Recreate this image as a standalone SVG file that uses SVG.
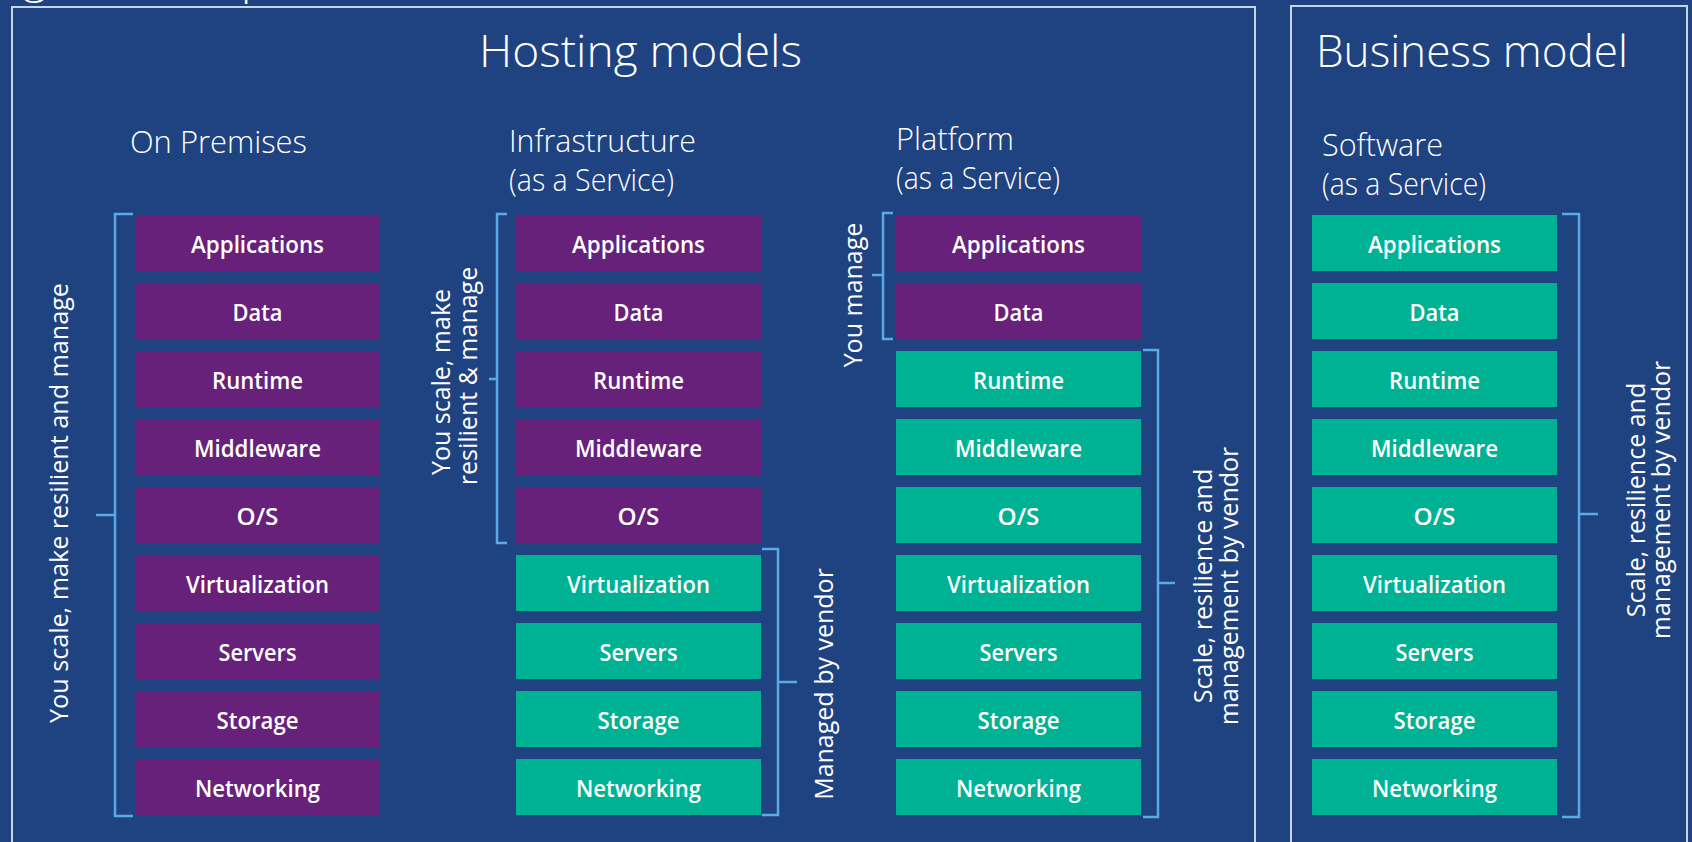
<svg xmlns="http://www.w3.org/2000/svg" width="1692" height="842" viewBox="0 0 1692 842">
  <style>
    .bg{fill:#1f4280}
    .frame{fill:none;stroke:#c5d5e8;stroke-width:2}
    .p{fill:#68217a}
    .g{fill:#00b294}
    .t{font-family:"Open Sans","Liberation Sans",sans-serif;fill:#ffffff}
    .title{font-weight:300;font-size:45px}
    .hdr{font-weight:300;font-size:31px}
    .lbl{font-weight:600;font-size:23px;text-anchor:middle}
    .side{font-weight:400;font-size:25px;text-anchor:middle}
    .br{fill:none;stroke:#5aaae8;stroke-width:2.5}
  </style>

  <rect class="bg" x="0" y="0" width="1692" height="842"/>

  <!-- cut-off heading above the frames -->
  <text class="t title" x="23" y="-7" font-size="50">g</text>
  <text class="t title" x="241" y="-6" font-size="50">p</text>

  <!-- outer frames -->
  <rect id="hosting-frame" class="frame" x="12" y="7" width="1243" height="860"/>
  <rect id="business-frame" class="frame" x="1291" y="6" width="396" height="860"/>

  <!-- headings -->
  <text id="hosting-title" class="t title" x="479" y="67" textLength="323" lengthAdjust="spacingAndGlyphs">Hosting models</text>
  <text id="business-title" class="t title" x="1316" y="67" textLength="312" lengthAdjust="spacingAndGlyphs">Business model</text>

  <text class="t hdr" x="130" y="153" textLength="177" lengthAdjust="spacingAndGlyphs">On Premises</text>
  <text class="t hdr" x="509" y="152" textLength="187" lengthAdjust="spacingAndGlyphs">Infrastructure</text>
  <text class="t hdr" x="509" y="191" textLength="165" lengthAdjust="spacingAndGlyphs">(as a Service)</text>
  <text class="t hdr" x="896" y="150" textLength="118" lengthAdjust="spacingAndGlyphs">Platform</text>
  <text class="t hdr" x="896" y="189" textLength="164" lengthAdjust="spacingAndGlyphs">(as a Service)</text>
  <text class="t hdr" x="1322" y="156" textLength="121" lengthAdjust="spacingAndGlyphs">Software</text>
  <text class="t hdr" x="1322" y="195" textLength="164" lengthAdjust="spacingAndGlyphs">(as a Service)</text>

  <!-- On Premises stack -->
  <g id="onprem-applications"><rect class="p" x="135" y="215" width="245" height="56"/><text class="t lbl" x="257.5" y="253" textLength="133" lengthAdjust="spacingAndGlyphs">Applications</text></g>
  <g id="onprem-data"><rect class="p" x="135" y="283" width="245" height="56"/><text class="t lbl" x="257.5" y="321" textLength="50" lengthAdjust="spacingAndGlyphs">Data</text></g>
  <g id="onprem-runtime"><rect class="p" x="135" y="351" width="245" height="56"/><text class="t lbl" x="257.5" y="389" textLength="91" lengthAdjust="spacingAndGlyphs">Runtime</text></g>
  <g id="onprem-middleware"><rect class="p" x="135" y="419" width="245" height="56"/><text class="t lbl" x="257.5" y="457" textLength="127" lengthAdjust="spacingAndGlyphs">Middleware</text></g>
  <g id="onprem-os"><rect class="p" x="135" y="487" width="245" height="56"/><text class="t lbl" x="257.5" y="525" textLength="42" lengthAdjust="spacingAndGlyphs">O/S</text></g>
  <g id="onprem-virtualization"><rect class="p" x="135" y="555" width="245" height="56"/><text class="t lbl" x="257.5" y="593" textLength="143" lengthAdjust="spacingAndGlyphs">Virtualization</text></g>
  <g id="onprem-servers"><rect class="p" x="135" y="623" width="245" height="56"/><text class="t lbl" x="257.5" y="661" textLength="78" lengthAdjust="spacingAndGlyphs">Servers</text></g>
  <g id="onprem-storage"><rect class="p" x="135" y="691" width="245" height="56"/><text class="t lbl" x="257.5" y="729" textLength="82" lengthAdjust="spacingAndGlyphs">Storage</text></g>
  <g id="onprem-networking"><rect class="p" x="135" y="759" width="245" height="56"/><text class="t lbl" x="257.5" y="797" textLength="125" lengthAdjust="spacingAndGlyphs">Networking</text></g>

  <!-- Infrastructure as a Service stack -->
  <g id="iaas-applications"><rect class="p" x="516" y="215" width="245" height="56"/><text class="t lbl" x="638.5" y="253" textLength="133" lengthAdjust="spacingAndGlyphs">Applications</text></g>
  <g id="iaas-data"><rect class="p" x="516" y="283" width="245" height="56"/><text class="t lbl" x="638.5" y="321" textLength="50" lengthAdjust="spacingAndGlyphs">Data</text></g>
  <g id="iaas-runtime"><rect class="p" x="516" y="351" width="245" height="56"/><text class="t lbl" x="638.5" y="389" textLength="91" lengthAdjust="spacingAndGlyphs">Runtime</text></g>
  <g id="iaas-middleware"><rect class="p" x="516" y="419" width="245" height="56"/><text class="t lbl" x="638.5" y="457" textLength="127" lengthAdjust="spacingAndGlyphs">Middleware</text></g>
  <g id="iaas-os"><rect class="p" x="516" y="487" width="245" height="56"/><text class="t lbl" x="638.5" y="525" textLength="42" lengthAdjust="spacingAndGlyphs">O/S</text></g>
  <g id="iaas-virtualization"><rect class="g" x="516" y="555" width="245" height="56"/><text class="t lbl" x="638.5" y="593" textLength="143" lengthAdjust="spacingAndGlyphs">Virtualization</text></g>
  <g id="iaas-servers"><rect class="g" x="516" y="623" width="245" height="56"/><text class="t lbl" x="638.5" y="661" textLength="78" lengthAdjust="spacingAndGlyphs">Servers</text></g>
  <g id="iaas-storage"><rect class="g" x="516" y="691" width="245" height="56"/><text class="t lbl" x="638.5" y="729" textLength="82" lengthAdjust="spacingAndGlyphs">Storage</text></g>
  <g id="iaas-networking"><rect class="g" x="516" y="759" width="245" height="56"/><text class="t lbl" x="638.5" y="797" textLength="125" lengthAdjust="spacingAndGlyphs">Networking</text></g>

  <!-- Platform as a Service stack -->
  <g id="paas-applications"><rect class="p" x="896" y="215" width="245" height="56"/><text class="t lbl" x="1018.5" y="253" textLength="133" lengthAdjust="spacingAndGlyphs">Applications</text></g>
  <g id="paas-data"><rect class="p" x="896" y="283" width="245" height="56"/><text class="t lbl" x="1018.5" y="321" textLength="50" lengthAdjust="spacingAndGlyphs">Data</text></g>
  <g id="paas-runtime"><rect class="g" x="896" y="351" width="245" height="56"/><text class="t lbl" x="1018.5" y="389" textLength="91" lengthAdjust="spacingAndGlyphs">Runtime</text></g>
  <g id="paas-middleware"><rect class="g" x="896" y="419" width="245" height="56"/><text class="t lbl" x="1018.5" y="457" textLength="127" lengthAdjust="spacingAndGlyphs">Middleware</text></g>
  <g id="paas-os"><rect class="g" x="896" y="487" width="245" height="56"/><text class="t lbl" x="1018.5" y="525" textLength="42" lengthAdjust="spacingAndGlyphs">O/S</text></g>
  <g id="paas-virtualization"><rect class="g" x="896" y="555" width="245" height="56"/><text class="t lbl" x="1018.5" y="593" textLength="143" lengthAdjust="spacingAndGlyphs">Virtualization</text></g>
  <g id="paas-servers"><rect class="g" x="896" y="623" width="245" height="56"/><text class="t lbl" x="1018.5" y="661" textLength="78" lengthAdjust="spacingAndGlyphs">Servers</text></g>
  <g id="paas-storage"><rect class="g" x="896" y="691" width="245" height="56"/><text class="t lbl" x="1018.5" y="729" textLength="82" lengthAdjust="spacingAndGlyphs">Storage</text></g>
  <g id="paas-networking"><rect class="g" x="896" y="759" width="245" height="56"/><text class="t lbl" x="1018.5" y="797" textLength="125" lengthAdjust="spacingAndGlyphs">Networking</text></g>

  <!-- Software as a Service stack -->
  <g id="saas-applications"><rect class="g" x="1312" y="215" width="245" height="56"/><text class="t lbl" x="1434.5" y="253" textLength="133" lengthAdjust="spacingAndGlyphs">Applications</text></g>
  <g id="saas-data"><rect class="g" x="1312" y="283" width="245" height="56"/><text class="t lbl" x="1434.5" y="321" textLength="50" lengthAdjust="spacingAndGlyphs">Data</text></g>
  <g id="saas-runtime"><rect class="g" x="1312" y="351" width="245" height="56"/><text class="t lbl" x="1434.5" y="389" textLength="91" lengthAdjust="spacingAndGlyphs">Runtime</text></g>
  <g id="saas-middleware"><rect class="g" x="1312" y="419" width="245" height="56"/><text class="t lbl" x="1434.5" y="457" textLength="127" lengthAdjust="spacingAndGlyphs">Middleware</text></g>
  <g id="saas-os"><rect class="g" x="1312" y="487" width="245" height="56"/><text class="t lbl" x="1434.5" y="525" textLength="42" lengthAdjust="spacingAndGlyphs">O/S</text></g>
  <g id="saas-virtualization"><rect class="g" x="1312" y="555" width="245" height="56"/><text class="t lbl" x="1434.5" y="593" textLength="143" lengthAdjust="spacingAndGlyphs">Virtualization</text></g>
  <g id="saas-servers"><rect class="g" x="1312" y="623" width="245" height="56"/><text class="t lbl" x="1434.5" y="661" textLength="78" lengthAdjust="spacingAndGlyphs">Servers</text></g>
  <g id="saas-storage"><rect class="g" x="1312" y="691" width="245" height="56"/><text class="t lbl" x="1434.5" y="729" textLength="82" lengthAdjust="spacingAndGlyphs">Storage</text></g>
  <g id="saas-networking"><rect class="g" x="1312" y="759" width="245" height="56"/><text class="t lbl" x="1434.5" y="797" textLength="125" lengthAdjust="spacingAndGlyphs">Networking</text></g>

  <!-- responsibility brackets -->
  <g id="connectors">
    <path class="br" d="M133,214 H115 V816 H133 M115,515 H96"/>
    <path class="br" d="M507,214 H497 V543 H507 M497,379 H489"/>
    <path class="br" d="M762,549 H778 V815 H762 M778,682 H797"/>
    <path class="br" d="M893,213 H883 V339 H893 M883,275 H872"/>
    <path class="br" d="M1143,350 H1158 V817 H1143 M1158,583 H1175"/>
    <path class="br" d="M1562,214 H1579 V817 H1562 M1579,514 H1598"/>
  </g>

  <!-- bracket captions -->
  <g id="onprem-caption">
    <text class="t side" transform="translate(68,503) rotate(-90)" textLength="440" lengthAdjust="spacingAndGlyphs">You scale, make resilient and manage</text>
  </g>
  <g id="iaas-caption">
    <text class="t side" transform="translate(450,382) rotate(-90)">You scale, make</text>
    <text class="t side" transform="translate(477,376) rotate(-90)">resilient &amp; manage</text>
  </g>
  <g id="iaas-vendor-caption">
    <text class="t side" transform="translate(833,684) rotate(-90)">Managed by vendor</text>
  </g>
  <g id="paas-caption">
    <text class="t side" transform="translate(862,295) rotate(-90)">You manage</text>
  </g>
  <g id="paas-vendor-caption">
    <text class="t side" transform="translate(1212,586) rotate(-90)">Scale, resilience and</text>
    <text class="t side" transform="translate(1238,586) rotate(-90)">management by vendor</text>
  </g>
  <g id="saas-caption">
    <text class="t side" transform="translate(1645,500) rotate(-90)">Scale, resilience and</text>
    <text class="t side" transform="translate(1670,500) rotate(-90)">management by vendor</text>
  </g>
</svg>
